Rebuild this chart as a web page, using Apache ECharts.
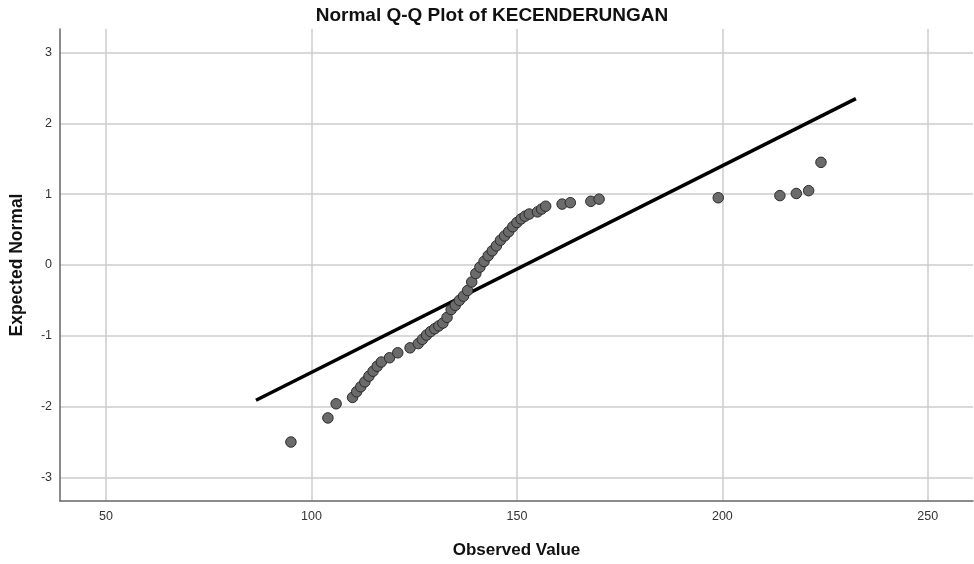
<!DOCTYPE html>
<html>
<head>
<meta charset="utf-8">
<title>Normal Q-Q Plot of KECENDERUNGAN</title>
<script src="https://cdn.jsdelivr.net/npm/echarts@6/dist/echarts.min.js"></script>
<style>
  html, body { margin: 0; padding: 0; background: #fff; }
  #chart { width: 974px; height: 564px; }
</style>
</head>
<body>
<div id="chart"></div>
<script>
// observed values (x) and their expected normal scores (y)
var observed = [95, 104, 106, 110, 111, 112, 113, 114, 115, 116, 117, 119, 121, 124, 126, 127, 128, 129, 130, 131,
  132, 133, 134, 135, 136, 137, 138, 139, 140, 141, 142, 143, 144, 145, 146, 147, 148, 149, 150, 151,
  152, 153, 155, 156, 157, 161, 163, 168, 170, 199, 214, 218, 221, 224];
var expected = [-2.50, -2.16, -1.96, -1.87, -1.79, -1.72, -1.65, -1.57, -1.50, -1.43, -1.37, -1.31, -1.24, -1.17, -1.11, -1.05, -0.99, -0.94, -0.90, -0.86,
  -0.82, -0.74, -0.63, -0.57, -0.50, -0.44, -0.36, -0.24, -0.12, -0.03, 0.05, 0.13, 0.20, 0.27, 0.35, 0.41, 0.47, 0.54, 0.60, 0.65,
  0.69, 0.72, 0.75, 0.79, 0.83, 0.86, 0.88, 0.90, 0.93, 0.95, 0.98, 1.01, 1.05, 1.45];

// reference line end points
var lineX = [86.5, 232.5];
var lineY = [-1.91, 2.35];

var xRange = [38.8, 261];
var yRange = [-3.333, 3.333];

var points = []
for (var i = 0; i < observed.length; i++) {
  points.push([observed[i], expected[i]])
}
var linePts = []
for (var j = 0; j < lineX.length; j++) {
  linePts.push([lineX[j], lineY[j]])
}

var myChart = echarts.init(document.getElementById('chart'))
var font = 'Liberation Sans, Arial, sans-serif'
var option = {
  animation: false,
  backgroundColor: '#fff',
  title: {
    text: 'Normal Q-Q Plot of KECENDERUNGAN',
    left: 487,
    textAlign: 'center',
    top: 1,
    textStyle: { fontFamily: font, fontSize: 19, fontWeight: 'bold', color: '#111' }
  },
  grid: { left: 59.5, right: 1, top: 29, bottom: 63 },
  xAxis: {
    type: 'value',
    min: xRange[0],
    max: xRange[1],
    name: 'Observed Value',
    nameLocation: 'middle',
    nameGap: 41,
    nameTextStyle: { fontFamily: font, fontSize: 17, fontWeight: 'bold', color: '#111' },
    axisLine: { onZero: false, lineStyle: { color: '#666', width: 1.5 } },
    axisTick: { show: false },
    axisLabel: { showMinLabel: false, showMaxLabel: false, margin: 9, fontFamily: font, fontSize: 12.5, color: '#333' },
    splitLine: { show: true, showMinLine: false, showMaxLine: false, lineStyle: { color: '#cccccc', width: 1.5 } }
  },
  yAxis: {
    type: 'value',
    min: yRange[0],
    max: yRange[1],
    name: 'Expected Normal',
    nameLocation: 'middle',
    nameGap: 34,
    nameRotate: 90,
    nameTextStyle: { fontFamily: font, fontSize: 17.5, fontWeight: 'bold', color: '#111' },
    axisLine: { show: true, onZero: false, lineStyle: { color: '#666', width: 1.5 } },
    axisTick: { show: false },
    axisLabel: { showMinLabel: false, showMaxLabel: false, margin: 8, fontFamily: font, fontSize: 12.5, color: '#333' },
    splitLine: { show: true, showMinLine: false, showMaxLine: false, lineStyle: { color: '#cccccc', width: 1.5 } }
  },
  series: [
    {
      type: 'line',
      data: linePts,
      symbol: 'none',
      lineStyle: { color: '#000', width: 3.5 },
      z: 3
    },
    {
      type: 'scatter',
      data: points,
      symbol: 'circle',
      symbolSize: 10.5,
      itemStyle: { color: '#6b6b6b', borderColor: '#2b2b2b', borderWidth: 1, opacity: 1 },
      z: 4
    }
  ]
}
myChart.setOption(option)
</script>
</body>
</html>
